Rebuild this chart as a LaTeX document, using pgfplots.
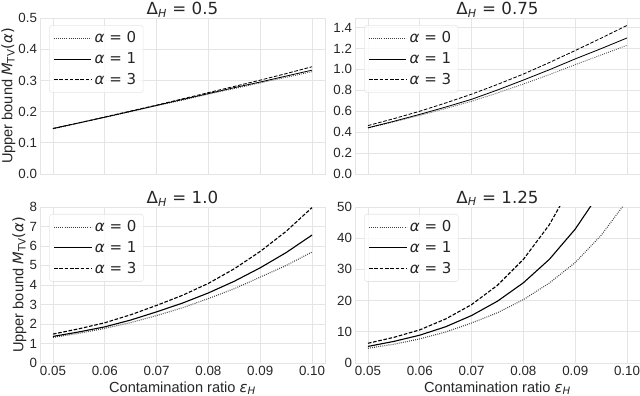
\documentclass[border=0pt]{standalone}
\usepackage{fontspec}
\setmainfont{Liberation Sans}
\newfontfamily\dv{DejaVu Sans}
\usepackage{pgfplots}
\usepackage{pgfplotstable}
\pgfplotsset{compat=1.18}

% panel data: contamination ratio vs upper bound for alpha = 0, 1, 3
\pgfplotstableread{
x     a0     a1     a3
0.050 0.145  0.146  0.146
0.055 0.163  0.164  0.164
0.060 0.182  0.182  0.183
0.065 0.200  0.201  0.202
0.070 0.219  0.220  0.221
0.075 0.237  0.239  0.241
0.080 0.256  0.258  0.261
0.085 0.274  0.277  0.281
0.090 0.292  0.295  0.301
0.095 0.310  0.314  0.322
0.100 0.328  0.333  0.344
}\dataA
\pgfplotstableread{
x     a0     a1     a3
0.050 0.440  0.442  0.463
0.055 0.498  0.504  0.529
0.060 0.560  0.570  0.600
0.065 0.626  0.640  0.679
0.070 0.695  0.714  0.763
0.075 0.775  0.803  0.856
0.080 0.860  0.898  0.955
0.085 0.950  0.996  1.065
0.090 1.045  1.100  1.180
0.095 1.137  1.198  1.298
0.100 1.230  1.300  1.420
}\dataB
\pgfplotstableread{
x     a0     a1     a3
0.050 1.31   1.36   1.48
0.055 1.52   1.59   1.75
0.060 1.77   1.85   2.06
0.065 2.07   2.20   2.47
0.070 2.43   2.62   2.95
0.075 2.83   3.07   3.47
0.080 3.30   3.59   4.08
0.085 3.81   4.19   4.83
0.090 4.40   4.88   5.72
0.095 5.00   5.66   6.75
0.100 5.69   6.56   7.97
}\dataC
\pgfplotstableread{
x     a0     a1     a3
0.050 4.7    5.3    6.3
0.055 6.0    6.9    8.2
0.060 7.7    8.9    10.6
0.065 9.9    11.6   14.1
0.070 12.8   15.2   18.7
0.075 16.1   19.8   24.9
0.080 20.3   25.7   33.2
0.085 25.6   33.2   44.3
0.090 32.2   42.9   59.0
0.095 40.9   55.2   79.0
0.100 52.0   71.0   106.0
}\dataD

\definecolor{gridgray}{gray}{0.90}
\definecolor{labgray}{gray}{0.15}

\pgfplotsset{
  panel/.style={
    scale only axis, width=205.2pt, height=112.3pt,
    xmin=0.0475, xmax=0.1025, ymin=0,
    xtick={0.05,0.06,0.07,0.08,0.09,0.10},
    grid=major, major grid style={draw=gridgray, line width=0.6pt},
    axis line style={draw=gridgray, line width=0.6pt},
    tick style={draw=none},
    /pgf/number format/assume math mode=true,
    ticklabel style={font=\fontsize{9.6}{11}\selectfont, text=labgray},
    yticklabel style={inner xsep=2pt},
    xticklabel style={inner ysep=2pt, /pgf/number format/.cd, fixed, fixed zerofill, precision=2},
    every axis title shift=0pt,
    title style={font=\fontsize{12}{14}\selectfont, text=labgray, inner sep=0pt, yshift=0.5pt},
    label style={font=\fontsize{10.5}{12}\selectfont, text=labgray},
    xlabel style={inner sep=1pt, yshift=-1.2pt},
    ylabel style={inner sep=0pt},
    legend cell align=left,
    legend style={at={(0.032,0.955)}, anchor=north west, draw=gridgray,
      rounded corners=2pt, fill=white, fill opacity=0.8, text opacity=1,
      font=\dv\fontsize{10.8}{13}\selectfont, text=labgray,
      row sep=1.5pt, inner xsep=3pt, inner ysep=2.5pt},
    legend image code/.code={\path (0pt,0pt) -- (27pt,0pt);
      \draw[##1] (0pt,0pt) -- (21.6pt,0pt);},
  },
  s0/.style={black!75, line width=#1, dash pattern=on 0.6pt off 0.9pt},
  s1/.style={black, line width=#1},
  s3/.style={black, line width=#1, dash pattern=on 2.6pt off 1.2pt},
}
\newcommand{\ylab}{Upper bound {\dv\itshape M}{\dv\textsubscript{TV}}{\dv(\textit{α})}}
\newcommand{\xlab}{Contamination ratio {\dv\itshape ε}{\dv\textsubscript{\itshape H}}}
\newcommand{\ttl}[1]{{\dv Δ\textsubscript{\itshape H} = #1}}

\begin{document}
\begin{tikzpicture}
\path[use as bounding box] (0,0) rectangle (460.8pt,285.12pt);

\begin{axis}[panel, at={(28.8pt,159.8pt)}, anchor=south west,
  ymax=0.5, ytick={0,0.1,...,0.5}, xticklabels={},
  yticklabel style={/pgf/number format/.cd, fixed, fixed zerofill, precision=1},
  title={\ttl{0.5}}, ylabel={\ylab}]
\addplot[s0=0.6pt] table[x=x,y=a0] {\dataA};
\addplot[s1=0.6pt] table[x=x,y=a1] {\dataA};
\addplot[s3=0.6pt] table[x=x,y=a3] {\dataA};
\legend{\textit{α} = 0, \textit{α} = 1, \textit{α} = 3}
\end{axis}

\begin{axis}[panel, at={(255.6pt,159.8pt)}, anchor=south west,
  ymax=1.49, ytick={0,0.2,...,1.4}, xticklabels={},
  yticklabel style={/pgf/number format/.cd, fixed, fixed zerofill, precision=1},
  title={\ttl{0.75}}]
\addplot[s0=0.6pt] table[x=x,y=a0] {\dataB};
\addplot[s1=0.6pt] table[x=x,y=a1] {\dataB};
\addplot[s3=0.6pt] table[x=x,y=a3] {\dataB};
\legend{\textit{α} = 0, \textit{α} = 1, \textit{α} = 3}
\end{axis}

\begin{axis}[panel, at={(28.8pt,23.8pt)}, anchor=south west,
  ymax=8, ytick={0,1,...,8},
  title={\ttl{1.0}}, xlabel={\xlab}, ylabel={\ylab}]
\addplot[s0=0.8pt] table[x=x,y=a0] {\dataC};
\addplot[s1=0.8pt] table[x=x,y=a1] {\dataC};
\addplot[s3=0.8pt] table[x=x,y=a3] {\dataC};
\legend{\textit{α} = 0, \textit{α} = 1, \textit{α} = 3}
\end{axis}

\begin{axis}[panel, at={(255.6pt,23.8pt)}, anchor=south west,
  ymax=50, ytick={0,10,...,50},
  title={\ttl{1.25}}, xlabel={\xlab}]
\addplot[s0=0.8pt] table[x=x,y=a0] {\dataD};
\addplot[s1=0.8pt] table[x=x,y=a1] {\dataD};
\addplot[s3=0.8pt] table[x=x,y=a3] {\dataD};
\legend{\textit{α} = 0, \textit{α} = 1, \textit{α} = 3}
\end{axis}
\end{tikzpicture}
\end{document}
